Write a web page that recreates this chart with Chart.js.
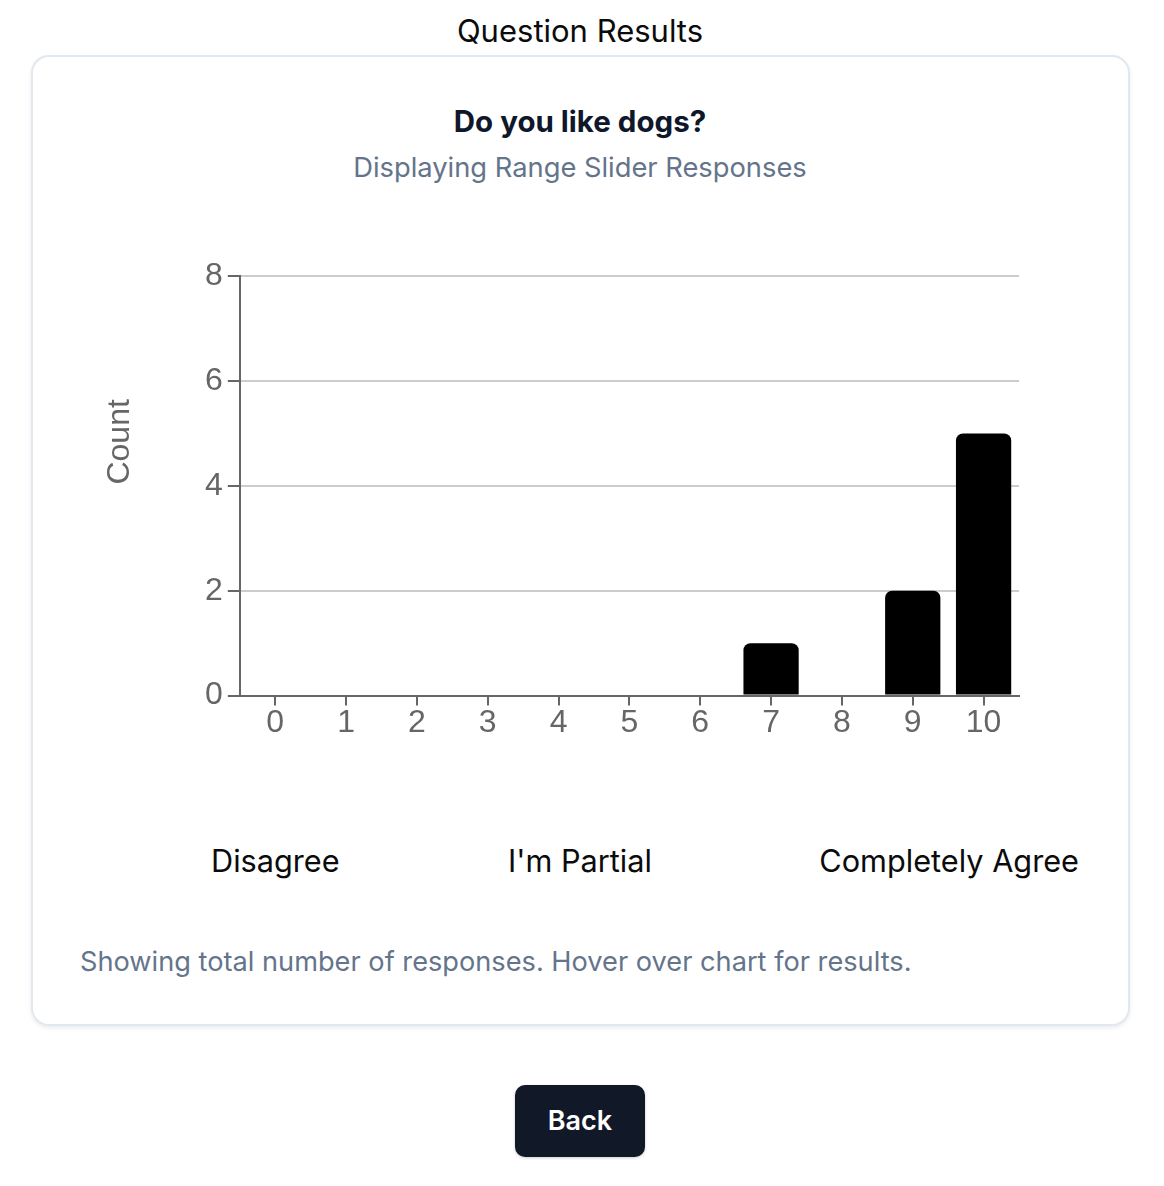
<!DOCTYPE html>
<html>
<head>
<meta charset="utf-8">
<script src="https://cdn.jsdelivr.net/npm/chart.js@4/dist/chart.umd.min.js"></script>
<style>
  html, body { margin:0; padding:0; background:#fff; }
  body { width:1164px; height:1186px; position:relative; overflow:hidden; font-family: Inter, "Noto Sans", sans-serif; }
  .abs { position:absolute; white-space:nowrap; }
  #pageTitle { left:0; width:1160px; text-align:center; top:13px; font-size:31px; line-height:36px; color:#0b0b0b; }
  #card { position:absolute; left:31px; top:55px; width:1095px; height:967px; border:2px solid #e2e8f0; border-radius:18px; box-shadow:0 2px 4px rgba(0,0,0,0.08); background:#fff; }
  #qTitle { left:0; width:1160px; text-align:center; top:103px; font-size:29.5px; line-height:36px; font-weight:700; color:#0f172a; }
  #qSub { left:0; width:1160px; text-align:center; top:150px; font-size:27.3px; line-height:36px; color:#64748b; }
  #chartBox { position:absolute; left:90px; top:252px; width:935px; height:488px; }
  .lab { top:843px; font-size:30.7px; line-height:36px; color:#0b0b0b; }
  #footer { left:80px; top:944px; font-size:27.2px; line-height:36px; color:#64748b; }
  #back { position:absolute; left:515px; top:1085px; width:130px; height:72px; background:#111827; border-radius:10px; color:#fff; font-size:27px; font-weight:600; line-height:72px; text-align:center; box-shadow:0 1px 3px rgba(0,0,0,0.2); }
</style>
</head>
<body>
<div id="pageTitle" class="abs">Question Results</div>
<div id="card"></div>
<div id="qTitle" class="abs">Do you like dogs?</div>
<div id="qSub" class="abs">Displaying Range Slider Responses</div>
<div id="chartBox"><canvas id="c" width="935" height="488"></canvas></div>
<div class="abs lab" id="l1" style="left:211px;">Disagree</div>
<div class="abs lab" id="l2" style="left:0; width:1160px; text-align:center;">I'm Partial</div>
<div class="abs lab" id="l3" style="right:85px;">Completely Agree</div>
<div id="footer" class="abs">Showing total number of responses. Hover over chart for results.</div>
<div id="back">Back</div>
<script>
const categories = ["0","1","2","3","4","5","6","7","8","9","10"];
const counts = [0,0,0,0,0,0,0,1,0,2,5];
const yTicks = [0,2,4,6,8];
const yTitle = 'Count';

const chartFont = '"Liberation Sans", Arial, sans-serif';

const yTitlePlugin = {
  id: 'yTitle',
  afterDraw(chart) {
    const { ctx, chartArea, scales } = chart;
    const x = scales.y.left - 80;
    const y = chartArea.top + (chartArea.bottom - chartArea.top) * 0.395;
    ctx.save();
    ctx.translate(x, y);
    ctx.rotate(-Math.PI / 2);
    ctx.fillStyle = '#666';
    ctx.font = '32px ' + chartFont;
    ctx.textAlign = 'center';
    ctx.textBaseline = 'middle';
    ctx.fillText(yTitle, 0, 0);
    ctx.restore();
  }
};

const chart = new Chart(document.getElementById('c'), {
  type: 'bar',
  data: {
    labels: categories,
    datasets: [{
      label: yTitle,
      data: counts,
      backgroundColor: '#000000',
      borderRadius: 7,
      borderSkipped: 'bottom',
      barPercentage: 0.78,
      categoryPercentage: 1.0
    }]
  },
  options: {
    responsive: false,
    animation: false,
    layout: { padding: { left: 110, right: 6, top: 0, bottom: 0 } },
    plugins: { legend: { display: false }, tooltip: { enabled: false } },
    scales: {
      x: {
        offset: true,
        grid: { display: true, drawOnChartArea: false, offset: false, tickColor: '#666', tickLength: 10, lineWidth: 2 },
        border: { display: true, color: '#666', width: 2 },
        ticks: { color: '#666', padding: -2, font: { family: chartFont, size: 32 } }
      },
      y: {
        min: 0,
        max: yTicks[yTicks.length - 1],
        afterBuildTicks: (axis) => { axis.ticks = yTicks.map(v => ({ value: v })); },
        grid: { color: '#cccccc', lineWidth: 2, tickColor: '#666', tickLength: 12 },
        border: { display: true, color: '#666', width: 2 },
        ticks: { color: '#666', padding: 5, font: { family: chartFont, size: 32 } },
        title: { display: false }
      }
    }
  },
  plugins: [yTitlePlugin]
});
</script>
</body>
</html>
